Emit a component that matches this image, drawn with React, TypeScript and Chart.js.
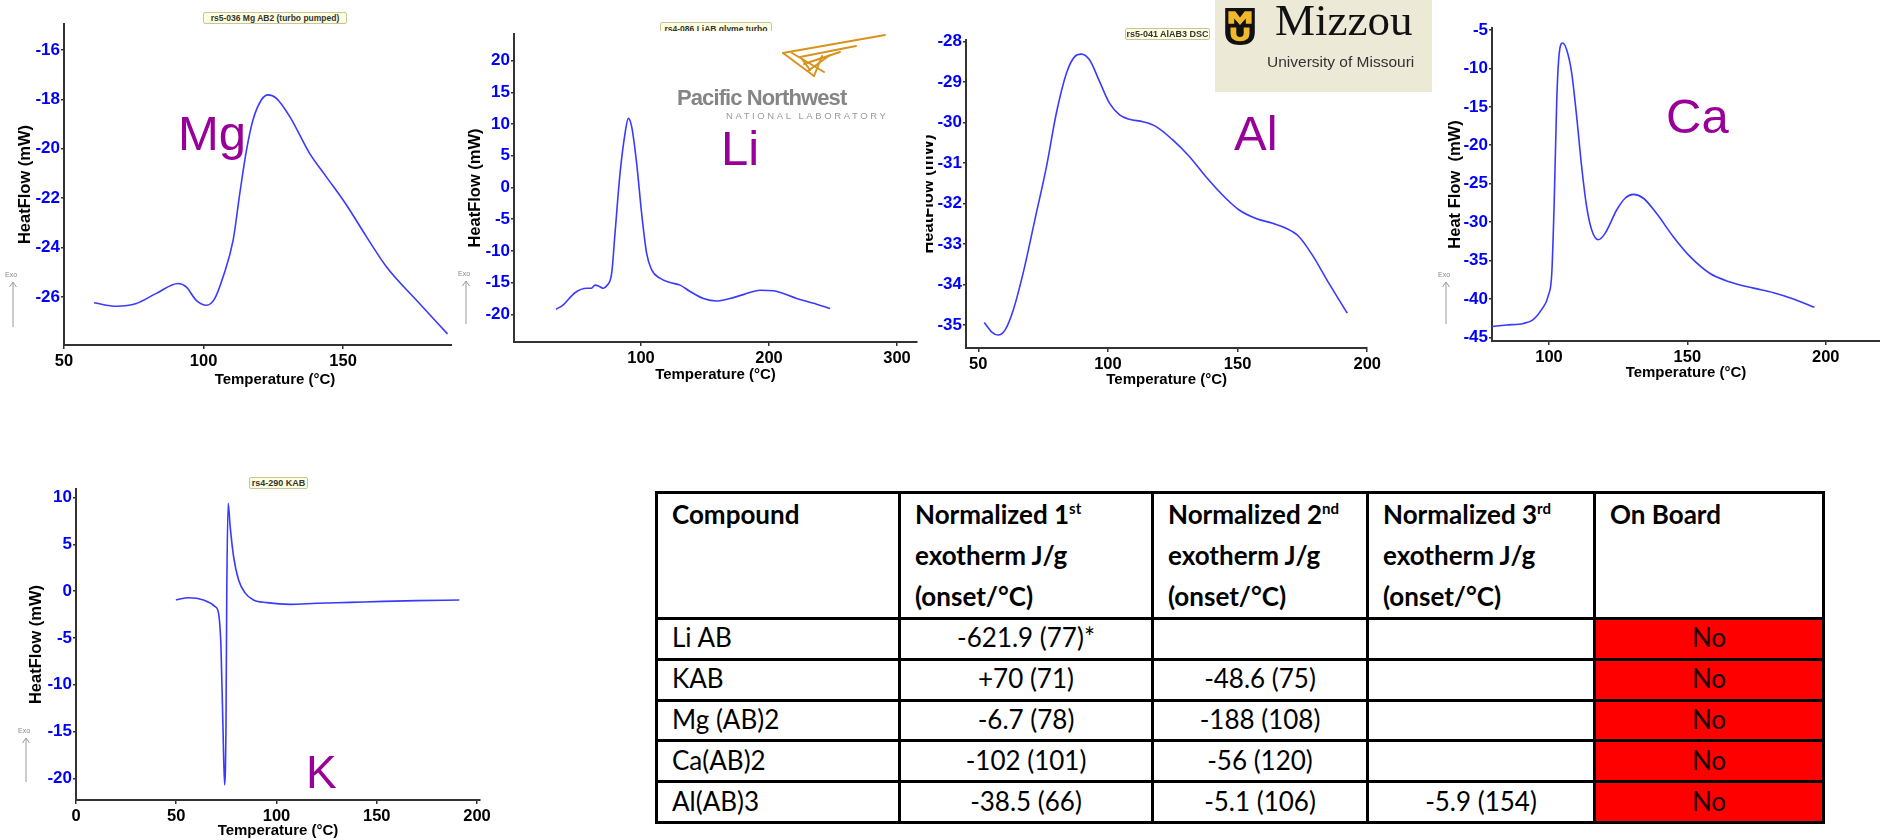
import React, { useEffect, useRef } from 'react';
import { Chart, registerables } from 'chart.js';

Chart.register(...registerables);

// ---------- DATA ----------
const mgTemp = [60.75, 68.8, 75.9, 83.1, 90.9, 93.8, 97.4, 101, 104, 107, 110.6, 113, 115.4, 117.7, 120.7, 123.1, 126.1, 130.9, 138, 144, 151.2, 158.4, 165.5, 176.3, 187.4];
const mgHeat = [-26.24, -26.38, -26.27, -25.86, -25.46, -25.6, -26.14, -26.34, -26.07, -25.19, -23.7, -21.8, -20.05, -18.84, -18.03, -17.82, -17.96, -18.7, -20.19, -21.14, -22.28, -23.57, -24.78, -26.14, -27.5];
const mgXTicks = [50, 100, 150, 200];
const mgYTicks = [-26, -24, -22, -20, -18, -16];

const liTemp = [33.6, 39.3, 48.4, 57.6, 61, 64.1, 67.4, 70.6, 73.2, 77.1, 79.7, 83.6, 87.5, 90.1, 92.7, 96.6, 100.5, 104.4, 108.3, 114.8, 122.7, 130.5, 138.3, 148.7, 159.1, 169.5, 180, 193, 203.4, 221.6, 237.2, 247.7];
const liHeat = [-19.2, -18.5, -16.6, -15.9, -15.9, -15.4, -15.6, -15.9, -15.5, -13.5, -7.2, 2.2, 8.5, 10.9, 9.6, 3.8, -4.1, -10.4, -13.0, -14.3, -15.0, -15.4, -16.4, -17.5, -17.9, -17.5, -16.9, -16.2, -16.3, -17.5, -18.4, -19.1];
const liXTicks = [100, 200, 300];
const liYTicks = [-20, -15, -10, -5, 0, 5, 10, 15, 20];

const alTemp = [52.3, 55.1, 57.7, 60.3, 63.5, 67.3, 71.8, 76.3, 80.1, 84, 87.2, 89.7, 92.9, 96.8, 100.6, 104.5, 108.3, 113.5, 118.6, 125, 131.4, 137.8, 144.2, 150.6, 157.1, 163.5, 168.6, 173.7, 178.8, 185.3, 192.3];
const alHeat = [-34.94, -35.17, -35.25, -35.13, -34.63, -33.72, -32.41, -31.09, -29.77, -28.78, -28.37, -28.31, -28.45, -28.99, -29.52, -29.81, -29.92, -29.98, -30.1, -30.43, -30.84, -31.34, -31.79, -32.16, -32.37, -32.49, -32.61, -32.82, -33.27, -33.98, -34.71];
const alXTicks = [50, 100, 150, 200];
const alYTicks = [-35, -34, -33, -32, -31, -30, -29, -28];

const caTemp = [79.3, 84.7, 90.7, 94.3, 97.3, 99.8, 101, 101.9, 102.8, 103.7, 104.9, 106.4, 108.2, 110, 111.8, 113.6, 115.4, 117.8, 120.2, 124.5, 127.5, 130.5, 134.1, 138.9, 144.9, 151, 158.2, 165.4, 173.9, 181.1, 188.3, 195.9];
const caHeat = [-43.6, -43.4, -43.2, -42.7, -41.4, -39.5, -36.7, -27.1, -14.1, -8.0, -6.7, -7.6, -10.6, -16.3, -22.8, -28, -31, -32.3, -31.5, -28.4, -26.9, -26.4, -26.9, -28.9, -31.9, -34.5, -36.7, -37.8, -38.6, -39.2, -40, -41.1];
const caXTicks = [100, 150, 200];
const caYTicks = [-45, -40, -35, -30, -25, -20, -15, -10, -5];

const kTemp = [49.8, 56.1, 63.6, 69.4, 71.1, 72.3, 73.3, 74.1, 74.8, 75.2, 75.9, 76.9, 78.6, 81.1, 84.4, 88.5, 95.2, 106.8, 120.1, 136.7, 153.3, 169.9, 191.2];
const kHeat = [-0.94, -0.69, -0.94, -1.65, -2.36, -5.9, -14.5, -20.7, -14.5, -0.2, 9.4, 6.9, 3.7, 1.2, -0.2, -0.94, -1.22, -1.4, -1.29, -1.19, -1.08, -1.0, -0.94];
const kXTicks = [0, 50, 100, 150, 200];
const kYTicks = [-20, -15, -10, -5, 0, 5, 10];

const xAxisTitle = 'Temperature (°C)';
const yTitleHeatFlow = 'HeatFlow (mW)';
const yTitleHeatFlowCa = 'Heat Flow  (mW)';

const tableHeaders = ['Compound', 'Normalized 1', 'Normalized 2', 'Normalized 3', 'On Board'];
const tableHeaderSups = ['', 'st', 'nd', 'rd', ''];
const compounds = ['Li AB', 'KAB', 'Mg (AB)2', 'Ca(AB)2', 'Al(AB)3'];
const firstExotherm = ['-621.9 (77)*', '+70 (71)', '-6.7 (78)', '-102 (101)', '-38.5 (66)'];
const secondExotherm = ['', '-48.6 (75)', '-188 (108)', '-56 (120)', '-5.1 (106)'];
const thirdExotherm = ['', '', '', '', '-5.9 (154)'];
const onBoard = ['No', 'No', 'No', 'No', 'No'];

// ---------- CHART ----------
type ChartProps = {
  left: number; top: number; width: number; height: number;
  padTop: number; padRight: number; yW: number; xH: number;
  xMin: number; xMax: number; xTicks: number[];
  yMin: number; yMax: number; yTicks: number[];
  temps: number[]; heats: number[];
  yTitle: string; yTitlePad: number;
};

const AX_FONT = "'Liberation Sans', Arial, sans-serif";

function DscChart(p: ChartProps) {
  const ref = useRef<HTMLCanvasElement>(null);
  useEffect(() => {
    if (!ref.current) return;
    const chart = new Chart(ref.current, {
      type: 'line',
      data: {
        datasets: [{
          data: p.temps.map((t, i) => ({ x: t, y: p.heats[i] })),
          borderColor: '#3a3aff',
          borderWidth: 1.6,
          pointRadius: 0,
          cubicInterpolationMode: 'monotone',
          fill: false,
        }],
      },
      options: {
        animation: false,
        responsive: false,
        devicePixelRatio: 1,
        layout: { padding: { left: 0, top: p.padTop, right: p.padRight, bottom: 0 } },
        plugins: { legend: { display: false }, tooltip: { enabled: false } },
        scales: {
          x: {
            type: 'linear',
            min: p.xMin,
            max: p.xMax,
            afterFit: (s: any) => { s.height = p.xH; },
            afterBuildTicks: (s: any) => { s.ticks = p.xTicks.map((v) => ({ value: v })); },
            ticks: {
              autoSkip: false,
              maxRotation: 0,
              color: '#000',
              padding: 3,
              font: { family: AX_FONT, weight: 'bold', size: 16.5 },
            },
            grid: { drawOnChartArea: false, drawTicks: true, tickLength: 4, color: '#333', lineWidth: 1.5 },
            border: { display: true, color: '#333', width: 2 },
            title: {
              display: true,
              text: xAxisTitle,
              color: '#000',
              padding: 0,
              font: { family: AX_FONT, weight: 'bold', size: 15 },
            },
          },
          y: {
            type: 'linear',
            position: 'left',
            min: p.yMin,
            max: p.yMax,
            afterFit: (s: any) => { s.width = p.yW; },
            afterBuildTicks: (s: any) => { s.ticks = p.yTicks.map((v) => ({ value: v })); },
            ticks: {
              autoSkip: false,
              color: '#0000ff',
              padding: 1,
              font: { family: AX_FONT, weight: 'bold', size: 17 },
            },
            grid: { drawOnChartArea: false, drawTicks: true, tickLength: 3, color: '#333', lineWidth: 1.5 },
            border: { display: true, color: '#333', width: 2 },
            title: {
              display: true,
              text: p.yTitle,
              color: '#000',
              padding: { top: p.yTitlePad, bottom: 0 },
              font: { family: AX_FONT, weight: 'bold', size: 16.5 },
            },
          },
        },
      } as any,
    });
    return () => chart.destroy();
  }, []);
  return (
    <canvas
      ref={ref}
      width={p.width}
      height={p.height}
      style={{ position: 'absolute', left: p.left, top: p.top, width: p.width, height: p.height, display: 'block' }}
    />
  );
}

// ---------- DECORATIONS ----------
function Label({ x, base, fs, text }: { x: number; base: number; fs: number; text: string }) {
  return (
    <div style={{
      position: 'absolute', left: x, top: base - 0.8465 * fs, fontSize: fs, lineHeight: `${fs}px`,
      fontFamily: AX_FONT, color: '#990099', whiteSpace: 'nowrap',
    }}>{text}</div>
  );
}

function TitleBox({ x, y, w, h, fs, text, clipH }: { x: number; y: number; w: number; h: number; fs: number; text: string; clipH?: number }) {
  return (
    <div style={{ position: 'absolute', left: x, top: y, width: w + 2, height: clipH ?? h + 2, overflow: 'hidden' }}>
      <div style={{
        width: w, height: h, background: '#ffffe0', border: '1px solid #c9c59a', borderRadius: 2,
        fontFamily: AX_FONT, fontWeight: 700, fontSize: fs, lineHeight: `${h}px`, color: '#333',
        textAlign: 'center', whiteSpace: 'nowrap',
      }}>{text}</div>
    </div>
  );
}

function Exo({ x, y, len }: { x: number; y: number; len: number }) {
  return (
    <svg style={{ position: 'absolute', left: x, top: y }} width={16} height={len + 14}>
      <text x={0} y={6} fontSize={7} fill="#888" fontFamily={AX_FONT}>Exo</text>
      <line x1={8} y1={11} x2={8} y2={11 + len} stroke="#999" strokeWidth={1} />
      <polyline points="4.5,16 8,11 11.5,16" fill="none" stroke="#999" strokeWidth={1} />
    </svg>
  );
}

function PnnlLogo() {
  return (
    <>
      <svg style={{ position: 'absolute', left: 778, top: 30 }} width={112} height={56}>
        <g stroke="#d8931c" strokeWidth={2} strokeLinecap="round" fill="none">
          <line x1={5} y1={23} x2={107} y2={5} />
          <line x1={5} y1={23} x2={36} y2={46} />
          <line x1={14} y1={23} x2={46} y2={42} />
          <line x1={22} y1={27} x2={78} y2={16} />
          <line x1={26} y1={34} x2={62} y2={22} />
          <line x1={30} y1={41} x2={52} y2={25} />
          <line x1={36} y1={46} x2={44} y2={26} />
          <line x1={24} y1={29} x2={32} y2={40} />
        </g>
      </svg>
      <div style={{
        position: 'absolute', left: 677, top: 106 - 0.8465 * 22, fontSize: 22, lineHeight: '22px',
        fontFamily: AX_FONT, fontWeight: 700, color: '#858585', letterSpacing: -0.9, whiteSpace: 'nowrap',
      }}>Pacific Northwest</div>
      <div style={{
        position: 'absolute', left: 726, top: 119 - 0.8465 * 9.5, fontSize: 9.5, lineHeight: '9.5px',
        fontFamily: AX_FONT, color: '#9a9a9a', letterSpacing: 2.6, whiteSpace: 'nowrap',
      }}>NATIONAL LABORATORY</div>
    </>
  );
}

function MizzouLogo() {
  return (
    <div style={{ position: 'absolute', left: 1215, top: 0, width: 217, height: 92, background: '#ece9d7' }}>
      <svg style={{ position: 'absolute', left: 9, top: 8 }} width={32} height={37} viewBox="0 0 28 35">
        <path d="M0 0 H28 V23 Q28 35 14 35 Q0 35 0 23 Z" fill="#111" />
        <path d="M3 3 H9.5 L14 9 L18.5 3 H25 V15 H19.5 V10 L14 16 L8.5 10 V15 H3 Z" fill="#f1b82d" />
        <path d="M5 18.5 H10.5 V24 Q10.5 27.5 14 27.5 Q17.5 27.5 17.5 24 V18.5 H23 V24 Q23 31.5 14 31.5 Q5 31.5 5 24 Z" fill="#f1b82d" />
      </svg>
      <div style={{
        position: 'absolute', left: 60, top: 38 - 0.891 * 45, fontSize: 45, lineHeight: '45px',
        fontFamily: "'Liberation Serif', 'DejaVu Serif', serif", color: '#111', whiteSpace: 'nowrap',
      }}>Mizzou</div>
      <div style={{
        position: 'absolute', left: 52, top: 67 - 0.8465 * 15.5, fontSize: 15.5, lineHeight: '15.5px',
        fontFamily: AX_FONT, color: '#333', whiteSpace: 'nowrap',
      }}>University of Missouri</div>
    </div>
  );
}

// ---------- TABLE ----------
const colW = [243, 253, 215, 227, 229];
const TB_FONT = "Lato, 'Open Sans', sans-serif";

function DataTable() {
  const border = '3px solid #000';
  const rows = compounds.map((c, i) => [c, firstExotherm[i], secondExotherm[i], thirdExotherm[i], onBoard[i]]);
  return (
    <table style={{
      position: 'absolute', left: 655, top: 491, width: colW.reduce((a, b) => a + b, 0),
      borderCollapse: 'collapse', tableLayout: 'fixed', fontFamily: TB_FONT, color: '#000',
    }}>
      <colgroup>{colW.map((w, i) => <col key={i} style={{ width: w }} />)}</colgroup>
      <thead>
        <tr style={{ height: 124 }}>
          {tableHeaders.map((h, i) => (
            <th key={i} style={{
              border, verticalAlign: 'top', textAlign: 'left', padding: '0 0 0 14px',
              fontSize: 26, fontWeight: 700, lineHeight: '41px',
            }}>
              {i >= 1 && i <= 3 ? (
                <>
                  {h}<sup style={{ fontSize: 15, lineHeight: 0, verticalAlign: 10 }}>{tableHeaderSups[i]}</sup><br />
                  exotherm J/g<br />(onset/°C)
                </>
              ) : h}
            </th>
          ))}
        </tr>
      </thead>
      <tbody>
        {rows.map((r, ri) => (
          <tr key={ri} style={{ height: 40.8 }}>
            {r.map((v, ci) => (
              <td key={ci} style={{
                border, padding: ci === 0 ? '0 0 3px 14px' : '0 0 3px 0', textAlign: ci === 0 ? 'left' : 'center',
                verticalAlign: 'middle', fontSize: 26, lineHeight: '32px',
                background: ci === 4 ? '#ff0000' : '#fff', color: ci === 4 ? '#1a0000' : '#000',
              }}>{v}</td>
            ))}
          </tr>
        ))}
      </tbody>
    </table>
  );
}

// ---------- APP ----------
export default function App() {
  return (
    <div style={{ position: 'absolute', left: 0, top: 0, width: 1880, height: 840, overflow: 'hidden', background: '#fff' }}>
      {/* Mg */}
      <div style={{ position: 'absolute', left: 0, top: 0, width: 452, height: 400, overflow: 'hidden' }}>
        <DscChart left={0} top={0} width={500} height={389} padTop={24} padRight={14} yW={64} xH={44}
          xMin={50} xMax={201.2} xTicks={mgXTicks} yMin={-27.95} yMax={-14.95} yTicks={mgYTicks}
          temps={mgTemp} heats={mgHeat} yTitle={yTitleHeatFlow} yTitlePad={15.1} />
      </div>
      {/* Li */}
      <DscChart left={455} top={0} width={470} height={384} padTop={34} padRight={8} yW={59} xH={42}
        xMin={0.78} xMax={315.6} xTicks={liXTicks} yMin={-24.37} yMax={24.2} yTicks={liYTicks}
        temps={liTemp} heats={liHeat} yTitle={yTitleHeatFlow} yTitlePad={10.1} />
      {/* Al */}
      <DscChart left={926} top={0} width={458} height={389} padTop={40} padRight={16} yW={40} xH={41}
        xMin={45.27} xMax={200} xTicks={alXTicks} yMin={-35.57} yMax={-27.96} yTicks={alYTicks}
        temps={alTemp} heats={alHeat} yTitle={yTitleHeatFlow} yTitlePad={-7.9} />
      {/* Ca */}
      <DscChart left={1425} top={0} width={455} height={382} padTop={28} padRight={0} yW={67} xH={41}
        xMin={79.4} xMax={219.6} xTicks={caXTicks} yMin={-45.48} yMax={-4.74} yTicks={caYTicks}
        temps={caTemp} heats={caHeat} yTitle={yTitleHeatFlowCa} yTitlePad={20.1} />
      {/* K */}
      <DscChart left={0} top={460} width={494} height={380} padTop={29} padRight={14} yW={76} xH={40}
        xMin={0} xMax={201.5} xTicks={kXTicks} yMin={-22.32} yMax={10.93} yTicks={kYTicks}
        temps={kTemp} heats={kHeat} yTitle={yTitleHeatFlow} yTitlePad={26.1} />

      <TitleBox x={203} y={12} w={142} h={10} fs={8.5} text="rs5-036 Mg AB2 (turbo pumped)" />
      <TitleBox x={660} y={22} w={110} h={12} fs={8.5} text="rs4-086 LiAB glyme turbo" clipH={9} />
      <TitleBox x={1125} y={28} w={83} h={10} fs={9} text="rs5-041 AlAB3 DSC" />
      <TitleBox x={249} y={477} w={57} h={10} fs={9} text="rs4-290 KAB" />

      <Exo x={5} y={271} len={45} />
      <Exo x={458} y={270} len={43} />
      <Exo x={1438} y={271} len={42} />
      <Exo x={18} y={727} len={44} />

      <Label x={178} base={150} fs={49} text="Mg" />
      <Label x={721} base={165} fs={49} text="Li" />
      <Label x={1234} base={150} fs={49} text="Al" />
      <Label x={1666} base={133} fs={49} text="Ca" />
      <Label x={306} base={788} fs={46} text="K" />

      <PnnlLogo />
      <MizzouLogo />
      <DataTable />
    </div>
  );
}
